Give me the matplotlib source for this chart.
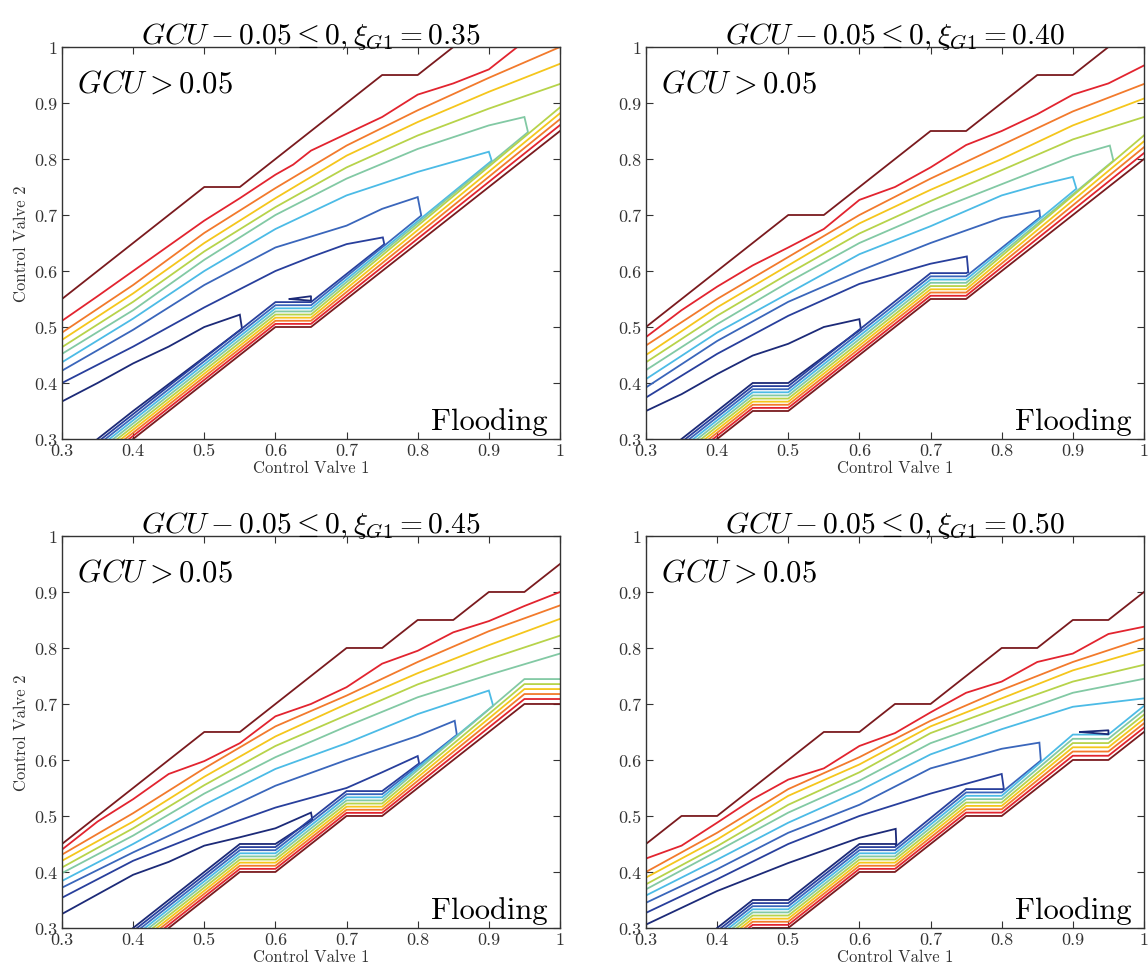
import matplotlib
matplotlib.use("Agg")
import matplotlib.pyplot as plt

plt.rcParams["font.family"] = ["cmr10", "DejaVu Serif"]
plt.rcParams["mathtext.fontset"] = "cm"
plt.rcParams["axes.unicode_minus"] = False
plt.rcParams["axes.formatter.use_mathtext"] = True

# ---------------- data ----------------
xi_values = ["0.35", "0.40", "0.45", "0.50"]
tick_values = [0.3, 0.4, 0.5, 0.6, 0.7, 0.8, 0.9, 1.0]
tick_labels = ["0.3", "0.4", "0.5", "0.6", "0.7", "0.8", "0.9", "1"]
level_colors = ["#1c2a78", "#283f9c", "#3a66bb", "#4cbbe6", "#82c9a4",
                "#b7d34a", "#f5c61c", "#f27a2c", "#e2242f", "#7a1a1e"]
# fraction of the flooding-band width at which each level lies (level 9 = base)
flood_frac = [1.0, 0.889, 0.778, 0.667, 0.556, 0.444, 0.333, 0.222, 0.111, 0.0]

X8 = [0.3, 0.4, 0.5, 0.6, 0.7, 0.8, 0.9, 1.0]

# ---- panel 1 (xi = 0.35) ----
p1_upper_x = [
    [0.3, 0.35, 0.4, 0.45, 0.5, 0.55, 0.553],
    [0.3, 0.4, 0.5, 0.6, 0.65, 0.7, 0.751, 0.753],
    [0.3, 0.4, 0.5, 0.6, 0.7, 0.75, 0.80, 0.805],
    [0.3, 0.4, 0.5, 0.6, 0.7, 0.8, 0.85, 0.90, 0.904],
    [0.3, 0.4, 0.5, 0.6, 0.7, 0.8, 0.9, 0.95, 0.955],
    X8, X8, X8,
    [0.3, 0.35, 0.4, 0.45, 0.5, 0.55, 0.6, 0.625, 0.65, 0.7, 0.75, 0.8, 0.85, 0.9, 0.94],
    [0.3, 0.5, 0.55, 0.75, 0.8, 0.85],
]
p1_upper_y = [
    [0.367, 0.40, 0.435, 0.465, 0.50, 0.522, 0.497],
    [0.40, 0.465, 0.535, 0.60, 0.625, 0.648, 0.66, 0.648],
    [0.422, 0.495, 0.575, 0.642, 0.681, 0.711, 0.732, 0.699],
    [0.437, 0.515, 0.60, 0.675, 0.735, 0.777, 0.795, 0.813, 0.797],
    [0.452, 0.53, 0.62, 0.70, 0.765, 0.818, 0.86, 0.875, 0.848],
    [0.464, 0.545, 0.635, 0.714, 0.785, 0.842, 0.89, 0.934],
    [0.477, 0.56, 0.65, 0.73, 0.806, 0.866, 0.92, 0.97],
    [0.49, 0.575, 0.668, 0.748, 0.824, 0.887, 0.945, 1.0],
    [0.511, 0.555, 0.60, 0.645, 0.69, 0.73, 0.772, 0.79, 0.815, 0.845, 0.875, 0.915, 0.935, 0.96, 1.0],
    [0.55, 0.75, 0.75, 0.95, 0.95, 1.0],
]
p1_base_x = [0.35, 0.4, 0.6, 0.65, 1.0]
p1_base_y = [0.25, 0.3, 0.5, 0.5, 0.85]
p1_base_w = [0.05, 0.05, 0.05, 0.05, 0.095]
p1_closed = 5
p1_extra_x = [0.62, 0.65, 0.65, 0.62]
p1_extra_y = [0.550, 0.555, 0.547, 0.550]

# ---- panel 2 (xi = 0.40) ----
p2_upper_x = [
    [0.3, 0.35, 0.4, 0.45, 0.5, 0.55, 0.6, 0.602],
    [0.3, 0.4, 0.5, 0.6, 0.7, 0.751, 0.753],
    [0.3, 0.4, 0.5, 0.6, 0.7, 0.8, 0.853, 0.854],
    [0.3, 0.4, 0.5, 0.6, 0.7, 0.8, 0.85, 0.9, 0.905],
    [0.3, 0.4, 0.5, 0.6, 0.7, 0.8, 0.9, 0.952, 0.957],
    X8, X8, X8,
    [0.3, 0.35, 0.4, 0.45, 0.5, 0.55, 0.6, 0.65, 0.7, 0.75, 0.8, 0.85, 0.9, 0.95, 1.0],
    [0.3, 0.5, 0.55, 0.7, 0.75, 0.85, 0.9, 0.95],
]
p2_upper_y = [
    [0.35, 0.38, 0.416, 0.449, 0.47, 0.50, 0.514, 0.496],
    [0.374, 0.452, 0.52, 0.577, 0.613, 0.626, 0.598],
    [0.392, 0.475, 0.545, 0.60, 0.65, 0.695, 0.708, 0.696],
    [0.407, 0.49, 0.56, 0.63, 0.68, 0.735, 0.753, 0.768, 0.747],
    [0.423, 0.505, 0.58, 0.65, 0.705, 0.755, 0.805, 0.824, 0.797],
    [0.437, 0.52, 0.595, 0.667, 0.725, 0.78, 0.835, 0.875],
    [0.45, 0.535, 0.61, 0.685, 0.745, 0.80, 0.86, 0.908],
    [0.467, 0.55, 0.625, 0.70, 0.765, 0.825, 0.885, 0.934],
    [0.482, 0.53, 0.572, 0.61, 0.642, 0.675, 0.727, 0.75, 0.785, 0.825, 0.85, 0.88, 0.915, 0.935, 0.967],
    [0.5, 0.7, 0.7, 0.85, 0.85, 0.95, 0.95, 1.0],
]
p2_base_x = [0.35, 0.4, 0.45, 0.5, 0.7, 0.75, 1.0]
p2_base_y = [0.25, 0.3, 0.35, 0.35, 0.55, 0.55, 0.8]
p2_base_w = [0.05, 0.05, 0.05, 0.05, 0.052, 0.052, 0.095]
p2_closed = 5

# ---- panel 3 (xi = 0.45) ----
p3_upper_x = [
    [0.3, 0.35, 0.4, 0.45, 0.5, 0.55, 0.6, 0.65, 0.652],
    [0.3, 0.4, 0.5, 0.6, 0.7, 0.75, 0.8, 0.802],
    [0.3, 0.4, 0.5, 0.6, 0.7, 0.8, 0.852, 0.855],
    [0.3, 0.4, 0.5, 0.6, 0.7, 0.8, 0.9, 0.906],
    X8, X8, X8, X8,
    [0.3, 0.35, 0.4, 0.45, 0.5, 0.55, 0.6, 0.65, 0.7, 0.75, 0.8, 0.85, 0.9, 0.95, 1.0],
    [0.3, 0.5, 0.55, 0.7, 0.75, 0.8, 0.85, 0.9, 0.95, 1.0],
]
p3_upper_y = [
    [0.325, 0.36, 0.395, 0.418, 0.447, 0.462, 0.478, 0.506, 0.493],
    [0.354, 0.42, 0.47, 0.515, 0.55, 0.578, 0.607, 0.594],
    [0.372, 0.435, 0.494, 0.554, 0.60, 0.643, 0.67, 0.645],
    [0.384, 0.45, 0.52, 0.584, 0.63, 0.682, 0.724, 0.697],
    [0.398, 0.465, 0.54, 0.605, 0.66, 0.712, 0.752, 0.79],
    [0.408, 0.478, 0.555, 0.625, 0.68, 0.735, 0.78, 0.822],
    [0.42, 0.49, 0.57, 0.642, 0.70, 0.755, 0.805, 0.852],
    [0.431, 0.505, 0.585, 0.66, 0.715, 0.775, 0.83, 0.876],
    [0.44, 0.49, 0.53, 0.575, 0.598, 0.63, 0.678, 0.70, 0.73, 0.772, 0.795, 0.828, 0.848, 0.875, 0.90],
    [0.45, 0.65, 0.65, 0.8, 0.8, 0.85, 0.85, 0.9, 0.9, 0.95],
]
p3_base_x = [0.4, 0.45, 0.55, 0.6, 0.7, 0.75, 0.95, 1.0]
p3_base_y = [0.25, 0.3, 0.4, 0.4, 0.5, 0.5, 0.7, 0.7]
p3_base_w = [0.05, 0.05, 0.05, 0.05, 0.05, 0.05, 0.08, 0.08]
p3_closed = 4

# ---- panel 4 (xi = 0.50) ----
p4_upper_x = [
    [0.3, 0.4, 0.5, 0.6, 0.651, 0.652],
    [0.3, 0.4, 0.5, 0.6, 0.7, 0.8, 0.803],
    [0.3, 0.4, 0.5, 0.6, 0.7, 0.8, 0.853, 0.855],
    X8, X8, X8, X8, X8,
    [0.3, 0.35, 0.4, 0.45, 0.5, 0.55, 0.6, 0.65, 0.7, 0.75, 0.8, 0.85, 0.9, 0.95, 1.0],
    [0.3, 0.35, 0.4, 0.55, 0.6, 0.65, 0.7, 0.8, 0.85, 0.9, 0.95, 1.0],
]
p4_upper_y = [
    [0.306, 0.366, 0.416, 0.461, 0.477, 0.447],
    [0.327, 0.387, 0.45, 0.50, 0.54, 0.575, 0.548],
    [0.345, 0.405, 0.47, 0.52, 0.585, 0.62, 0.631, 0.599],
    [0.358, 0.422, 0.488, 0.545, 0.61, 0.655, 0.695, 0.71],
    [0.369, 0.437, 0.506, 0.563, 0.63, 0.675, 0.72, 0.745],
    [0.378, 0.446, 0.52, 0.578, 0.648, 0.695, 0.74, 0.77],
    [0.39, 0.458, 0.536, 0.592, 0.66, 0.71, 0.76, 0.797],
    [0.40, 0.47, 0.548, 0.605, 0.67, 0.725, 0.775, 0.817],
    [0.424, 0.447, 0.488, 0.53, 0.565, 0.585, 0.625, 0.648, 0.685, 0.72, 0.74, 0.775, 0.79, 0.825, 0.838],
    [0.45, 0.5, 0.5, 0.65, 0.65, 0.7, 0.7, 0.8, 0.8, 0.85, 0.85, 0.9],
]
p4_base_x = [0.4, 0.45, 0.5, 0.6, 0.65, 0.75, 0.8, 0.9, 0.95, 1.0]
p4_base_y = [0.25, 0.3, 0.3, 0.4, 0.4, 0.5, 0.5, 0.6, 0.6, 0.65]
p4_base_w = [0.05, 0.05, 0.05, 0.05, 0.05, 0.054, 0.054, 0.068, 0.068, 0.07]
p4_closed = 3
p4_extra_x = [0.91, 0.95, 0.95, 0.91]
p4_extra_y = [0.650, 0.653, 0.646, 0.650]

panels = [
    (p1_upper_x, p1_upper_y, p1_base_x, p1_base_y, p1_base_w, p1_closed, (p1_extra_x, p1_extra_y)),
    (p2_upper_x, p2_upper_y, p2_base_x, p2_base_y, p2_base_w, p2_closed, None),
    (p3_upper_x, p3_upper_y, p3_base_x, p3_base_y, p3_base_w, p3_closed, None),
    (p4_upper_x, p4_upper_y, p4_base_x, p4_base_y, p4_base_w, p4_closed, (p4_extra_x, p4_extra_y)),
]

# ---------------- figure ----------------
fig = plt.figure(figsize=(11.48, 9.70), dpi=100)
positions = [[0.054, 0.5464, 0.4338, 0.4041], [0.5627, 0.5464, 0.4338, 0.4041],
             [0.054, 0.0423, 0.4338, 0.4041], [0.5627, 0.0423, 0.4338, 0.4041]]

LW = 1.3
for idx, (ux, uy, bx, by, bw, nclosed, extra) in enumerate(panels):
    ax = fig.add_axes(positions[idx])
    for k in range(10):
        col = level_colors[k]
        f = flood_frac[k]
        lx = list(bx)
        ly = [y + f * w for y, w in zip(by, bw)]
        if k < nclosed:
            dx = ux[k][-1]
            keep = [(x, y) for x, y in zip(lx, ly) if x < dx]
            px = list(ux[k]) + [p[0] for p in reversed(keep)]
            py = list(uy[k]) + [p[1] for p in reversed(keep)]
            ax.plot(px, py, color=col, lw=LW, solid_joinstyle="miter")
        else:
            ax.plot(ux[k], uy[k], color=col, lw=LW)
            ax.plot(lx, ly, color=col, lw=LW)
    if extra is not None:
        ax.plot(extra[0], extra[1], color=level_colors[0], lw=LW)

    ax.set_xlim(0.3, 1.0)
    ax.set_ylim(0.3, 1.0)
    ax.set_xticks(tick_values)
    ax.set_xticklabels(tick_labels)
    ax.set_yticks(tick_values)
    ax.set_yticklabels(tick_labels)
    ax.tick_params(direction="in", top=True, right=True, length=5, width=0.8,
                   colors="#333333", labelsize=13, pad=3)
    for s in ax.spines.values():
        s.set_color("#333333")
        s.set_linewidth(1.0)
    ax.set_xlabel("Control Valve 1", fontsize=12, color="#333333", labelpad=1)
    if idx % 2 == 0:
        ax.set_ylabel("Control Valve 2", fontsize=12, color="#333333", labelpad=4)
    ax.set_title(r"$GCU-0.05\leq0,\xi_{G1}=" + xi_values[idx] + "$", fontsize=21.3, pad=3)
    ax.text(0.03, 0.885, r"$GCU>0.05$", transform=ax.transAxes, fontsize=22,
            ha="left", va="baseline")
    ax.text(0.976, 0.026, "Flooding", transform=ax.transAxes, fontsize=22,
            ha="right", va="baseline")

fig.savefig("out.png", dpi=100)
